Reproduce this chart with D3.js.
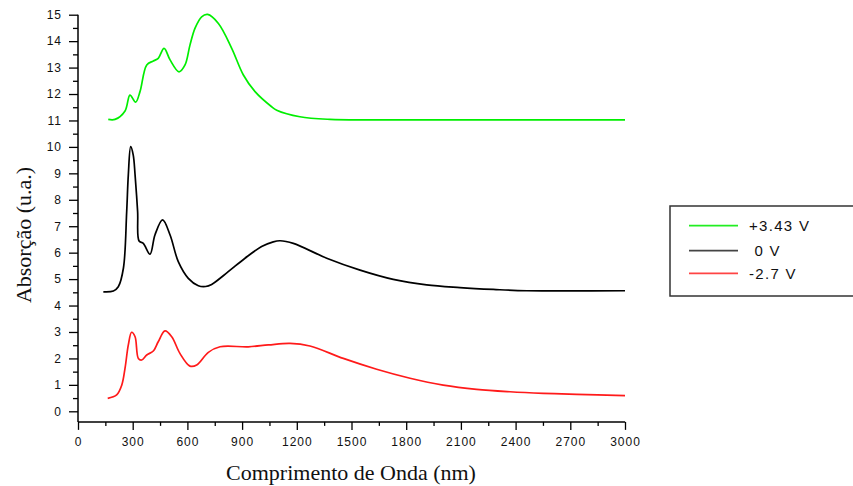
<!DOCTYPE html>
<html><head><meta charset="utf-8">
<script src="https://d3js.org/d3.v7.min.js"></script>
<style>
body{margin:0;background:#fff;}
svg{display:block;}
.tick text{font-family:Arial,"Liberation Sans",sans-serif;}
</style></head>
<body><svg id="c" width="853" height="486"></svg>
<script>
// Data
const wlGreen = [166,203,258,285,316,340,377,413,440,472,505,554,587,614,642,678,711,770,843,907,971,1062,1090,1217,1382,1600,2000,2500,3000];
const absGreen = [11.04,11.04,11.36,11.96,11.69,12.09,13.10,13.25,13.35,13.73,13.29,12.84,13.10,13.85,14.49,14.92,15.01,14.67,13.73,12.72,12.09,11.52,11.39,11.14,11.04,11.02,11.02,11.02,11.02];

const wlBlack = [139,194,221,249,267,276,289,303,313,327,335,358,395,422,464,505,550,605,660,700,733,824,916,1007,1071,1108,1181,1364,1547,1729,1912,2095,2278,2461,3000];
const absBlack = [4.52,4.55,4.71,5.41,7.55,8.94,10.01,9.69,8.94,7.55,6.44,6.35,5.94,6.67,7.24,6.67,5.66,5.03,4.75,4.72,4.80,5.28,5.79,6.23,6.41,6.45,6.35,5.79,5.34,4.99,4.78,4.68,4.61,4.56,4.56];

const wlRed = [163,212,240,258,276,294,313,331,349,377,413,440,477,514,559,614,651,715,779,934,1044,1163,1272,1455,1638,1821,2003,2186,2369,2552,2735,3000];
const absRed = [0.49,0.62,0.99,1.63,2.51,2.99,2.82,2.00,1.94,2.13,2.28,2.63,3.04,2.82,2.19,1.71,1.75,2.23,2.44,2.44,2.51,2.57,2.47,2.00,1.59,1.25,0.99,0.83,0.74,0.68,0.64,0.59];

const seriesLabels = ["+3.43 V", " 0 V", "-2.7 V"];
const seriesColors = ["#00ee00", "#000000", "#ff1a1a"];
const legendColors = ["#22ee22", "#444444", "#ff4444"];

const xMajorTicks = d3.range(0, 3001, 300);
const xMinorTicks = d3.range(150, 3000, 300);
const yMajorTicks = d3.range(0, 16, 1);
const yMinorTicks = d3.range(0.5, 15, 1);

const xTitle = "Comprimento de Onda (nm)";
const yTitle = "Absorção (u.a.)";

const svg = d3.select("#c");
const x = d3.scaleLinear().domain([0, 3000]).range([78, 625]);
const y = d3.scaleLinear().domain([0, 15]).range([411.3, 14.7]);
const yBottom = y(-0.4);

// X axis
const gx = svg.append("g").attr("transform", `translate(0,${yBottom})`);
gx.call(d3.axisBottom(x).tickValues(xMajorTicks).tickSize(8).tickPadding(8).tickFormat(d3.format("d")));
gx.append("g").call(d3.axisBottom(x).tickValues(xMinorTicks).tickSize(4).tickFormat(""))
  .select(".domain").remove();
gx.selectAll(".domain").attr("d", `M${x(0)},0H${x(3000)}`);
// Y axis
const gy = svg.append("g").attr("transform", `translate(${x(0)},0)`);
gy.call(d3.axisLeft(y).tickValues(yMajorTicks).tickSize(9).tickPadding(7).tickFormat(d3.format("d")));
gy.append("g").call(d3.axisLeft(y).tickValues(yMinorTicks).tickSize(5).tickFormat(""))
  .select(".domain").remove();
gy.selectAll(".domain").attr("d", `M0,${yBottom}V${y(15)}`);

svg.selectAll(".domain").attr("stroke", "#000").attr("stroke-width", 1.5);
svg.selectAll(".tick line").attr("stroke", "#000").attr("stroke-width", 1.3);
svg.selectAll(".tick text").attr("font-size", 12).attr("letter-spacing", "1px").attr("fill", "#111");

// Lines
const line = d3.line().x(d => x(d[0])).y(d => y(d[1])).curve(d3.curveCatmullRom.alpha(0.5));
const allSeries = [
  d3.zip(wlGreen, absGreen),
  d3.zip(wlBlack, absBlack),
  d3.zip(wlRed, absRed)
];
allSeries.forEach((s, i) => {
  svg.append("path").datum(s).attr("d", line)
    .attr("fill", "none").attr("stroke", seriesColors[i]).attr("stroke-width", 1.7)
    .attr("stroke-linejoin", "round");
});

// Axis titles
svg.append("text").attr("x", 351).attr("y", 480).attr("text-anchor", "middle")
  .attr("font-family", "'Liberation Serif','Times New Roman',serif").attr("font-size", 22)
  .attr("fill", "#111").text(xTitle);
svg.append("text").attr("transform", "translate(31,235) rotate(-90)").attr("text-anchor", "middle")
  .attr("font-family", "'Liberation Serif','Times New Roman',serif").attr("font-size", 22)
  .attr("fill", "#111").text(yTitle);

// Legend
const lg = svg.append("g");
lg.append("rect").attr("x", 670).attr("y", 206).attr("width", 190).attr("height", 90)
  .attr("fill", "#fff").attr("stroke", "#333").attr("stroke-width", 1.5);
const rowY = [225.7, 250.7, 273.3];
seriesLabels.forEach((lab, i) => {
  lg.append("line").attr("x1", 689).attr("x2", 738).attr("y1", rowY[i]).attr("y2", rowY[i])
    .attr("stroke", legendColors[i]).attr("stroke-width", 1.7);
  lg.append("text").attr("x", 749).attr("y", rowY[i] + 5.5)
    .attr("font-family", "Arial,'Liberation Sans',sans-serif").attr("font-size", 15)
    .attr("letter-spacing", "1.3px").attr("fill", "#111").style("white-space", "pre").text(lab);
});
</script></body></html>
